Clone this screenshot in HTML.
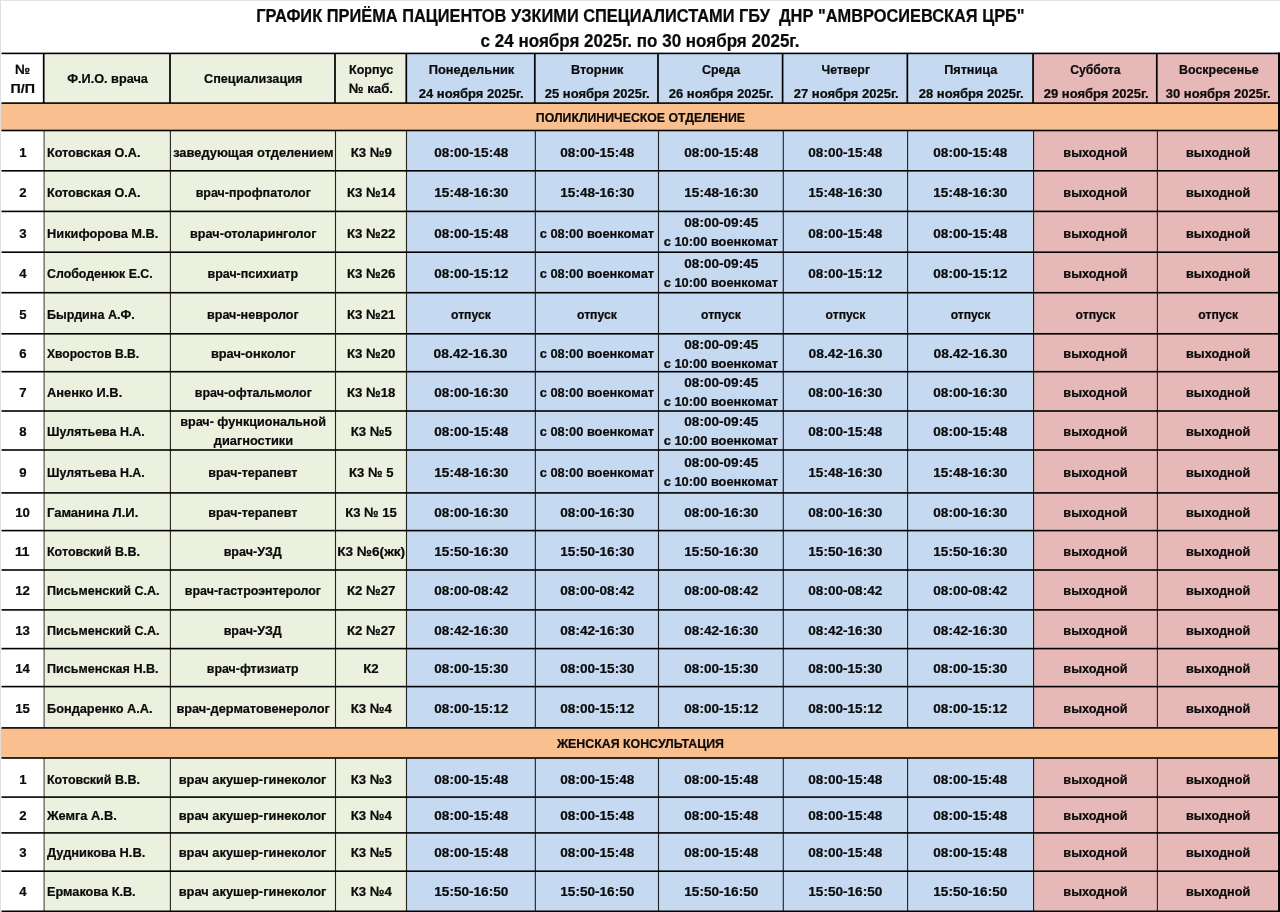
<!DOCTYPE html>
<html lang="ru"><head><meta charset="utf-8"><title>График приёма</title>
<style>
html,body{margin:0;padding:0;background:#fff;width:1280px;height:912px;overflow:hidden}
body{width:1280px;height:912px;position:relative;overflow:hidden;font-family:"Liberation Sans",sans-serif}
svg{position:absolute;left:0;top:0}
#txt{position:absolute;left:0;top:0;width:1280px;height:912px;overflow:hidden;will-change:transform}
.t{position:absolute;white-space:pre;text-align:center;font-weight:bold;font-size:13.7px;line-height:20px;color:#0a0a0a;-webkit-text-stroke:0.22px #0a0a0a}
.t span{display:inline-block;transform-origin:50% 50%}
.l{text-align:left}
.l span{transform-origin:0 50%}
</style></head><body>
<svg width="1280" height="912" viewBox="0 0 1280 912">
<rect x="44.10" y="53.40" width="362.40" height="49.70" fill="#EBF1DE"/>
<rect x="406.50" y="53.40" width="627.05" height="49.70" fill="#C5D9F1"/>
<rect x="1033.55" y="53.40" width="245.45" height="49.70" fill="#E6B8B7"/>
<rect x="44.10" y="130.50" width="362.40" height="597.40" fill="#EBF1DE"/>
<rect x="406.50" y="130.50" width="627.05" height="597.40" fill="#C5D9F1"/>
<rect x="1033.55" y="130.50" width="245.45" height="597.40" fill="#E6B8B7"/>
<rect x="44.10" y="758.00" width="362.40" height="153.30" fill="#EBF1DE"/>
<rect x="406.50" y="758.00" width="627.05" height="153.30" fill="#C5D9F1"/>
<rect x="1033.55" y="758.00" width="245.45" height="153.30" fill="#E6B8B7"/>
<rect x="1.00" y="103.10" width="1278.00" height="27.40" fill="#FABF8F"/>
<rect x="1.00" y="727.90" width="1278.00" height="30.10" fill="#FABF8F"/>
<rect x="0.00" y="0.00" width="1280.00" height="1.00" fill="#e4e4e4"/>
<rect x="0.00" y="0.00" width="1.00" height="912.00" fill="#e0e0e0"/>
<rect x="42.85" y="53.40" width="1.70" height="49.70" fill="#000"/>
<rect x="43.55" y="130.50" width="1.10" height="597.40" fill="#484848"/>
<rect x="43.55" y="758.00" width="1.10" height="153.30" fill="#484848"/>
<rect x="169.15" y="53.40" width="1.70" height="49.70" fill="#000"/>
<rect x="169.85" y="130.50" width="1.10" height="597.40" fill="#222"/>
<rect x="169.85" y="758.00" width="1.10" height="153.30" fill="#222"/>
<rect x="334.15" y="53.40" width="1.70" height="49.70" fill="#000"/>
<rect x="334.95" y="130.50" width="1.10" height="597.40" fill="#222"/>
<rect x="334.95" y="758.00" width="1.10" height="153.30" fill="#222"/>
<rect x="405.45" y="53.40" width="1.70" height="49.70" fill="#000"/>
<rect x="405.95" y="130.50" width="1.10" height="597.40" fill="#222"/>
<rect x="405.95" y="758.00" width="1.10" height="153.30" fill="#222"/>
<rect x="533.95" y="53.40" width="1.70" height="49.70" fill="#000"/>
<rect x="534.80" y="130.50" width="1.10" height="597.40" fill="#222"/>
<rect x="534.80" y="758.00" width="1.10" height="153.30" fill="#222"/>
<rect x="657.15" y="53.40" width="1.70" height="49.70" fill="#000"/>
<rect x="657.95" y="130.50" width="1.10" height="597.40" fill="#222"/>
<rect x="657.95" y="758.00" width="1.10" height="153.30" fill="#222"/>
<rect x="781.75" y="53.40" width="1.70" height="49.70" fill="#000"/>
<rect x="782.75" y="130.50" width="1.10" height="597.40" fill="#222"/>
<rect x="782.75" y="758.00" width="1.10" height="153.30" fill="#222"/>
<rect x="906.50" y="53.40" width="1.70" height="49.70" fill="#000"/>
<rect x="907.05" y="130.50" width="1.10" height="597.40" fill="#222"/>
<rect x="907.05" y="758.00" width="1.10" height="153.30" fill="#222"/>
<rect x="1032.20" y="53.40" width="1.70" height="49.70" fill="#000"/>
<rect x="1033.00" y="130.50" width="1.10" height="597.40" fill="#222"/>
<rect x="1033.00" y="758.00" width="1.10" height="153.30" fill="#222"/>
<rect x="1155.95" y="53.40" width="1.70" height="49.70" fill="#000"/>
<rect x="1156.85" y="130.50" width="1.10" height="597.40" fill="#222"/>
<rect x="1156.85" y="758.00" width="1.10" height="153.30" fill="#222"/>
<rect x="1278.00" y="52.60" width="2.00" height="859.40" fill="#000"/>
<rect x="1.50" y="52.60" width="1278.50" height="1.60" fill="#000"/>
<rect x="1.50" y="102.30" width="1278.50" height="1.60" fill="#000"/>
<rect x="1.50" y="129.70" width="1278.50" height="1.60" fill="#000"/>
<rect x="1.50" y="170.00" width="1278.50" height="1.60" fill="#000"/>
<rect x="1.50" y="210.60" width="1278.50" height="1.60" fill="#000"/>
<rect x="1.50" y="251.40" width="1278.50" height="1.60" fill="#000"/>
<rect x="1.50" y="291.90" width="1278.50" height="1.60" fill="#000"/>
<rect x="1.50" y="333.00" width="1278.50" height="1.60" fill="#000"/>
<rect x="1.50" y="370.90" width="1278.50" height="1.60" fill="#000"/>
<rect x="1.50" y="410.20" width="1278.50" height="1.60" fill="#000"/>
<rect x="1.50" y="449.20" width="1278.50" height="1.60" fill="#000"/>
<rect x="1.50" y="492.10" width="1278.50" height="1.60" fill="#000"/>
<rect x="1.50" y="529.80" width="1278.50" height="1.60" fill="#000"/>
<rect x="1.50" y="569.20" width="1278.50" height="1.60" fill="#000"/>
<rect x="1.50" y="609.10" width="1278.50" height="1.60" fill="#000"/>
<rect x="1.50" y="647.80" width="1278.50" height="1.60" fill="#000"/>
<rect x="1.50" y="685.80" width="1278.50" height="1.60" fill="#000"/>
<rect x="1.50" y="727.10" width="1278.50" height="1.60" fill="#000"/>
<rect x="1.50" y="757.20" width="1278.50" height="1.60" fill="#000"/>
<rect x="1.50" y="796.30" width="1278.50" height="1.60" fill="#000"/>
<rect x="1.50" y="832.10" width="1278.50" height="1.60" fill="#000"/>
<rect x="1.50" y="870.40" width="1278.50" height="1.60" fill="#000"/>
<rect x="1.50" y="910.50" width="1278.50" height="1.60" fill="#000"/>
</svg>
<div id="txt">
<div class="t" style="left:-39.00px;width:123.10px;top:59.80px"><span style="transform:scaleX(0.9900)">№</span></div>
<div class="t" style="left:-39.00px;width:123.10px;top:78.80px"><span style="transform:scaleX(1.0395)">П/П</span></div>
<div class="t" style="left:4.10px;width:206.30px;top:68.80px"><span style="transform:scaleX(0.9279)">Ф.И.О. врача</span></div>
<div class="t" style="left:130.40px;width:245.10px;top:68.80px"><span style="transform:scaleX(0.9236)">Специализация</span></div>
<div class="t" style="left:295.50px;width:151.00px;top:59.80px"><span style="transform:scaleX(0.9178)">Корпус</span></div>
<div class="t" style="left:295.50px;width:151.00px;top:78.80px"><span style="transform:scaleX(0.9657)">№ каб.</span></div>
<div class="t" style="left:366.90px;width:208.85px;top:59.80px"><span style="transform:scaleX(0.9396)">Понедельник</span></div>
<div class="t" style="left:366.90px;width:208.85px;top:83.80px"><span style="transform:scaleX(0.9500)">24 ноября 2025г.</span></div>
<div class="t" style="left:495.75px;width:203.15px;top:59.80px"><span style="transform:scaleX(0.9264)">Вторник</span></div>
<div class="t" style="left:495.75px;width:203.15px;top:83.80px"><span style="transform:scaleX(0.9500)">25 ноября 2025г.</span></div>
<div class="t" style="left:618.90px;width:204.80px;top:59.80px"><span style="transform:scaleX(0.9063)">Среда</span></div>
<div class="t" style="left:618.90px;width:204.80px;top:83.80px"><span style="transform:scaleX(0.9500)">26 ноября 2025г.</span></div>
<div class="t" style="left:743.70px;width:204.30px;top:59.80px"><span style="transform:scaleX(0.9023)">Четверг</span></div>
<div class="t" style="left:743.70px;width:204.30px;top:83.80px"><span style="transform:scaleX(0.9500)">27 ноября 2025г.</span></div>
<div class="t" style="left:868.00px;width:205.95px;top:59.80px"><span style="transform:scaleX(0.9251)">Пятница</span></div>
<div class="t" style="left:868.00px;width:205.95px;top:83.80px"><span style="transform:scaleX(0.9500)">28 ноября 2025г.</span></div>
<div class="t" style="left:993.95px;width:203.85px;top:59.80px"><span style="transform:scaleX(0.8882)">Суббота</span></div>
<div class="t" style="left:993.95px;width:203.85px;top:83.80px"><span style="transform:scaleX(0.9500)">29 ноября 2025г.</span></div>
<div class="t" style="left:1117.80px;width:201.60px;top:59.80px"><span style="transform:scaleX(0.9075)">Воскресенье</span></div>
<div class="t" style="left:1117.80px;width:201.60px;top:83.80px"><span style="transform:scaleX(0.9500)">30 ноября 2025г.</span></div>
<div class="t" style="left:-39.00px;width:1358.00px;top:107.80px"><span style="transform:scaleX(0.8982)">ПОЛИКЛИНИЧЕСКОЕ ОТДЕЛЕНИЕ</span></div>
<div class="t" style="left:-39.00px;width:1358.00px;top:733.80px"><span style="transform:scaleX(0.9039)">ЖЕНСКАЯ КОНСУЛЬТАЦИЯ</span></div>
<div class="t" style="left:-39.00px;width:123.10px;top:142.80px"><span style="transform:scaleX(0.9605)">1</span></div>
<div class="t l" style="left:47.40px;top:142.80px"><span style="transform:scaleX(0.9225)">Котовская О.А.</span></div>
<div class="t" style="left:130.40px;width:245.10px;top:142.80px"><span style="transform:scaleX(0.9399)">заведующая отделением</span></div>
<div class="t" style="left:295.50px;width:151.00px;top:142.80px"><span style="transform:scaleX(0.9653)">К3 №9</span></div>
<div class="t" style="left:366.50px;width:208.85px;top:142.80px"><span style="transform:scaleX(0.9922)">08:00-15:48</span></div>
<div class="t" style="left:495.35px;width:203.15px;top:142.80px"><span style="transform:scaleX(0.9922)">08:00-15:48</span></div>
<div class="t" style="left:618.50px;width:204.80px;top:142.80px"><span style="transform:scaleX(0.9922)">08:00-15:48</span></div>
<div class="t" style="left:743.30px;width:204.30px;top:142.80px"><span style="transform:scaleX(0.9922)">08:00-15:48</span></div>
<div class="t" style="left:867.60px;width:205.95px;top:142.80px"><span style="transform:scaleX(0.9922)">08:00-15:48</span></div>
<div class="t" style="left:993.55px;width:203.85px;top:143.30px;font-size:12.7px"><span>выходной</span></div>
<div class="t" style="left:1117.40px;width:201.60px;top:143.30px;font-size:12.7px"><span>выходной</span></div>
<div class="t" style="left:-39.00px;width:123.10px;top:182.80px"><span style="transform:scaleX(0.9605)">2</span></div>
<div class="t l" style="left:47.40px;top:182.80px"><span style="transform:scaleX(0.9225)">Котовская О.А.</span></div>
<div class="t" style="left:130.40px;width:245.10px;top:182.80px"><span style="transform:scaleX(0.9110)">врач-профпатолог</span></div>
<div class="t" style="left:295.50px;width:151.00px;top:182.80px"><span style="transform:scaleX(0.9646)">К3 №14</span></div>
<div class="t" style="left:366.50px;width:208.85px;top:182.80px"><span style="transform:scaleX(0.9922)">15:48-16:30</span></div>
<div class="t" style="left:495.35px;width:203.15px;top:182.80px"><span style="transform:scaleX(0.9922)">15:48-16:30</span></div>
<div class="t" style="left:618.50px;width:204.80px;top:182.80px"><span style="transform:scaleX(0.9922)">15:48-16:30</span></div>
<div class="t" style="left:743.30px;width:204.30px;top:182.80px"><span style="transform:scaleX(0.9922)">15:48-16:30</span></div>
<div class="t" style="left:867.60px;width:205.95px;top:182.80px"><span style="transform:scaleX(0.9922)">15:48-16:30</span></div>
<div class="t" style="left:993.55px;width:203.85px;top:183.30px;font-size:12.7px"><span>выходной</span></div>
<div class="t" style="left:1117.40px;width:201.60px;top:183.30px;font-size:12.7px"><span>выходной</span></div>
<div class="t" style="left:-39.00px;width:123.10px;top:223.80px"><span style="transform:scaleX(0.9605)">3</span></div>
<div class="t l" style="left:47.40px;top:223.80px"><span style="transform:scaleX(0.9362)">Никифорова М.В.</span></div>
<div class="t" style="left:130.40px;width:245.10px;top:223.80px"><span style="transform:scaleX(0.9259)">врач-отоларинголог</span></div>
<div class="t" style="left:295.50px;width:151.00px;top:223.80px"><span style="transform:scaleX(0.9646)">К3 №22</span></div>
<div class="t" style="left:366.50px;width:208.85px;top:223.80px"><span style="transform:scaleX(0.9922)">08:00-15:48</span></div>
<div class="t" style="left:495.35px;width:203.15px;top:223.80px"><span style="transform:scaleX(0.9385)">с 08:00 военкомат</span></div>
<div class="t" style="left:618.50px;width:204.80px;top:212.80px"><span style="transform:scaleX(0.9922)">08:00-09:45</span></div>
<div class="t" style="left:618.50px;width:204.80px;top:231.80px"><span style="transform:scaleX(0.9385)">с 10:00 военкомат</span></div>
<div class="t" style="left:743.30px;width:204.30px;top:223.80px"><span style="transform:scaleX(0.9922)">08:00-15:48</span></div>
<div class="t" style="left:867.60px;width:205.95px;top:223.80px"><span style="transform:scaleX(0.9922)">08:00-15:48</span></div>
<div class="t" style="left:993.55px;width:203.85px;top:224.30px;font-size:12.7px"><span>выходной</span></div>
<div class="t" style="left:1117.40px;width:201.60px;top:224.30px;font-size:12.7px"><span>выходной</span></div>
<div class="t" style="left:-39.00px;width:123.10px;top:263.80px"><span style="transform:scaleX(0.9605)">4</span></div>
<div class="t l" style="left:47.40px;top:263.80px"><span style="transform:scaleX(0.9043)">Слободенюк Е.С.</span></div>
<div class="t" style="left:130.40px;width:245.10px;top:263.80px"><span style="transform:scaleX(0.9092)">врач-психиатр</span></div>
<div class="t" style="left:295.50px;width:151.00px;top:263.80px"><span style="transform:scaleX(0.9646)">К3 №26</span></div>
<div class="t" style="left:366.50px;width:208.85px;top:263.80px"><span style="transform:scaleX(0.9922)">08:00-15:12</span></div>
<div class="t" style="left:495.35px;width:203.15px;top:263.80px"><span style="transform:scaleX(0.9385)">с 08:00 военкомат</span></div>
<div class="t" style="left:618.50px;width:204.80px;top:253.80px"><span style="transform:scaleX(0.9922)">08:00-09:45</span></div>
<div class="t" style="left:618.50px;width:204.80px;top:272.80px"><span style="transform:scaleX(0.9385)">с 10:00 военкомат</span></div>
<div class="t" style="left:743.30px;width:204.30px;top:263.80px"><span style="transform:scaleX(0.9922)">08:00-15:12</span></div>
<div class="t" style="left:867.60px;width:205.95px;top:263.80px"><span style="transform:scaleX(0.9922)">08:00-15:12</span></div>
<div class="t" style="left:993.55px;width:203.85px;top:264.30px;font-size:12.7px"><span>выходной</span></div>
<div class="t" style="left:1117.40px;width:201.60px;top:264.30px;font-size:12.7px"><span>выходной</span></div>
<div class="t" style="left:-39.00px;width:123.10px;top:304.80px"><span style="transform:scaleX(0.9605)">5</span></div>
<div class="t l" style="left:47.40px;top:304.80px"><span style="transform:scaleX(0.9186)">Бырдина А.Ф.</span></div>
<div class="t" style="left:130.40px;width:245.10px;top:304.80px"><span style="transform:scaleX(0.9200)">врач-невролог</span></div>
<div class="t" style="left:295.50px;width:151.00px;top:304.80px"><span style="transform:scaleX(0.9646)">К3 №21</span></div>
<div class="t" style="left:366.50px;width:208.85px;top:305.30px;font-size:12.2px"><span>отпуск</span></div>
<div class="t" style="left:495.35px;width:203.15px;top:305.30px;font-size:12.2px"><span>отпуск</span></div>
<div class="t" style="left:618.50px;width:204.80px;top:305.30px;font-size:12.2px"><span>отпуск</span></div>
<div class="t" style="left:743.30px;width:204.30px;top:305.30px;font-size:12.2px"><span>отпуск</span></div>
<div class="t" style="left:867.60px;width:205.95px;top:305.30px;font-size:12.2px"><span>отпуск</span></div>
<div class="t" style="left:993.55px;width:203.85px;top:305.30px;font-size:12.2px"><span>отпуск</span></div>
<div class="t" style="left:1117.40px;width:201.60px;top:305.30px;font-size:12.2px"><span>отпуск</span></div>
<div class="t" style="left:-39.00px;width:123.10px;top:343.80px"><span style="transform:scaleX(0.9605)">6</span></div>
<div class="t l" style="left:47.40px;top:343.80px"><span style="transform:scaleX(0.8832)">Хворостов В.В.</span></div>
<div class="t" style="left:130.40px;width:245.10px;top:343.80px"><span style="transform:scaleX(0.9350)">врач-онколог</span></div>
<div class="t" style="left:295.50px;width:151.00px;top:343.80px"><span style="transform:scaleX(0.9646)">К3 №20</span></div>
<div class="t" style="left:366.50px;width:208.85px;top:343.80px"><span style="transform:scaleX(1.0128)">08.42-16.30</span></div>
<div class="t" style="left:495.35px;width:203.15px;top:343.80px"><span style="transform:scaleX(0.9385)">с 08:00 военкомат</span></div>
<div class="t" style="left:618.50px;width:204.80px;top:334.80px"><span style="transform:scaleX(0.9922)">08:00-09:45</span></div>
<div class="t" style="left:618.50px;width:204.80px;top:353.80px"><span style="transform:scaleX(0.9385)">с 10:00 военкомат</span></div>
<div class="t" style="left:743.30px;width:204.30px;top:343.80px"><span style="transform:scaleX(1.0128)">08.42-16.30</span></div>
<div class="t" style="left:867.60px;width:205.95px;top:343.80px"><span style="transform:scaleX(1.0128)">08.42-16.30</span></div>
<div class="t" style="left:993.55px;width:203.85px;top:344.30px;font-size:12.7px"><span>выходной</span></div>
<div class="t" style="left:1117.40px;width:201.60px;top:344.30px;font-size:12.7px"><span>выходной</span></div>
<div class="t" style="left:-39.00px;width:123.10px;top:382.80px"><span style="transform:scaleX(0.9605)">7</span></div>
<div class="t l" style="left:47.40px;top:382.80px"><span style="transform:scaleX(0.9378)">Аненко И.В.</span></div>
<div class="t" style="left:130.40px;width:245.10px;top:382.80px"><span style="transform:scaleX(0.9101)">врач-офтальмолог</span></div>
<div class="t" style="left:295.50px;width:151.00px;top:382.80px"><span style="transform:scaleX(0.9646)">К3 №18</span></div>
<div class="t" style="left:366.50px;width:208.85px;top:382.80px"><span style="transform:scaleX(0.9922)">08:00-16:30</span></div>
<div class="t" style="left:495.35px;width:203.15px;top:382.80px"><span style="transform:scaleX(0.9385)">с 08:00 военкомат</span></div>
<div class="t" style="left:618.50px;width:204.80px;top:372.80px"><span style="transform:scaleX(0.9922)">08:00-09:45</span></div>
<div class="t" style="left:618.50px;width:204.80px;top:391.80px"><span style="transform:scaleX(0.9385)">с 10:00 военкомат</span></div>
<div class="t" style="left:743.30px;width:204.30px;top:382.80px"><span style="transform:scaleX(0.9922)">08:00-16:30</span></div>
<div class="t" style="left:867.60px;width:205.95px;top:382.80px"><span style="transform:scaleX(0.9922)">08:00-16:30</span></div>
<div class="t" style="left:993.55px;width:203.85px;top:383.30px;font-size:12.7px"><span>выходной</span></div>
<div class="t" style="left:1117.40px;width:201.60px;top:383.30px;font-size:12.7px"><span>выходной</span></div>
<div class="t" style="left:-39.00px;width:123.10px;top:421.80px"><span style="transform:scaleX(0.9605)">8</span></div>
<div class="t l" style="left:47.40px;top:421.80px"><span style="transform:scaleX(0.9086)">Шулятьева Н.А.</span></div>
<div class="t" style="left:130.40px;width:245.10px;top:411.80px"><span style="transform:scaleX(0.9221)">врач- функциональной</span></div>
<div class="t" style="left:130.40px;width:245.10px;top:430.80px"><span style="transform:scaleX(0.9341)">диагностики</span></div>
<div class="t" style="left:295.50px;width:151.00px;top:421.80px"><span style="transform:scaleX(0.9653)">К3 №5</span></div>
<div class="t" style="left:366.50px;width:208.85px;top:421.80px"><span style="transform:scaleX(0.9922)">08:00-15:48</span></div>
<div class="t" style="left:495.35px;width:203.15px;top:421.80px"><span style="transform:scaleX(0.9385)">с 08:00 военкомат</span></div>
<div class="t" style="left:618.50px;width:204.80px;top:411.80px"><span style="transform:scaleX(0.9922)">08:00-09:45</span></div>
<div class="t" style="left:618.50px;width:204.80px;top:430.80px"><span style="transform:scaleX(0.9385)">с 10:00 военкомат</span></div>
<div class="t" style="left:743.30px;width:204.30px;top:421.80px"><span style="transform:scaleX(0.9922)">08:00-15:48</span></div>
<div class="t" style="left:867.60px;width:205.95px;top:421.80px"><span style="transform:scaleX(0.9922)">08:00-15:48</span></div>
<div class="t" style="left:993.55px;width:203.85px;top:422.30px;font-size:12.7px"><span>выходной</span></div>
<div class="t" style="left:1117.40px;width:201.60px;top:422.30px;font-size:12.7px"><span>выходной</span></div>
<div class="t" style="left:-39.00px;width:123.10px;top:462.80px"><span style="transform:scaleX(0.9605)">9</span></div>
<div class="t l" style="left:47.40px;top:462.80px"><span style="transform:scaleX(0.9086)">Шулятьева Н.А.</span></div>
<div class="t" style="left:130.40px;width:245.10px;top:462.80px"><span style="transform:scaleX(0.9120)">врач-терапевт</span></div>
<div class="t" style="left:295.50px;width:151.00px;top:462.80px"><span style="transform:scaleX(0.9564)">К3 № 5</span></div>
<div class="t" style="left:366.50px;width:208.85px;top:462.80px"><span style="transform:scaleX(0.9922)">15:48-16:30</span></div>
<div class="t" style="left:495.35px;width:203.15px;top:462.80px"><span style="transform:scaleX(0.9385)">с 08:00 военкомат</span></div>
<div class="t" style="left:618.50px;width:204.80px;top:452.80px"><span style="transform:scaleX(0.9922)">08:00-09:45</span></div>
<div class="t" style="left:618.50px;width:204.80px;top:471.80px"><span style="transform:scaleX(0.9385)">с 10:00 военкомат</span></div>
<div class="t" style="left:743.30px;width:204.30px;top:462.80px"><span style="transform:scaleX(0.9922)">15:48-16:30</span></div>
<div class="t" style="left:867.60px;width:205.95px;top:462.80px"><span style="transform:scaleX(0.9922)">15:48-16:30</span></div>
<div class="t" style="left:993.55px;width:203.85px;top:463.30px;font-size:12.7px"><span>выходной</span></div>
<div class="t" style="left:1117.40px;width:201.60px;top:463.30px;font-size:12.7px"><span>выходной</span></div>
<div class="t" style="left:-39.00px;width:123.10px;top:502.80px"><span style="transform:scaleX(0.9615)">10</span></div>
<div class="t l" style="left:47.40px;top:502.80px"><span style="transform:scaleX(0.9488)">Гаманина Л.И.</span></div>
<div class="t" style="left:130.40px;width:245.10px;top:502.80px"><span style="transform:scaleX(0.9120)">врач-терапевт</span></div>
<div class="t" style="left:295.50px;width:151.00px;top:502.80px"><span style="transform:scaleX(0.9573)">К3 № 15</span></div>
<div class="t" style="left:366.50px;width:208.85px;top:502.80px"><span style="transform:scaleX(0.9922)">08:00-16:30</span></div>
<div class="t" style="left:495.35px;width:203.15px;top:502.80px"><span style="transform:scaleX(0.9922)">08:00-16:30</span></div>
<div class="t" style="left:618.50px;width:204.80px;top:502.80px"><span style="transform:scaleX(0.9922)">08:00-16:30</span></div>
<div class="t" style="left:743.30px;width:204.30px;top:502.80px"><span style="transform:scaleX(0.9922)">08:00-16:30</span></div>
<div class="t" style="left:867.60px;width:205.95px;top:502.80px"><span style="transform:scaleX(0.9922)">08:00-16:30</span></div>
<div class="t" style="left:993.55px;width:203.85px;top:503.30px;font-size:12.7px"><span>выходной</span></div>
<div class="t" style="left:1117.40px;width:201.60px;top:503.30px;font-size:12.7px"><span>выходной</span></div>
<div class="t" style="left:-39.00px;width:123.10px;top:541.80px"><span style="transform:scaleX(1.0113)">11</span></div>
<div class="t l" style="left:47.40px;top:541.80px"><span style="transform:scaleX(0.9126)">Котовский В.В.</span></div>
<div class="t" style="left:130.40px;width:245.10px;top:541.80px"><span style="transform:scaleX(0.9165)">врач-УЗД</span></div>
<div class="t" style="left:295.50px;width:151.00px;top:541.80px"><span style="transform:scaleX(0.9948)">К3 №6(жк)</span></div>
<div class="t" style="left:366.50px;width:208.85px;top:541.80px"><span style="transform:scaleX(0.9922)">15:50-16:30</span></div>
<div class="t" style="left:495.35px;width:203.15px;top:541.80px"><span style="transform:scaleX(0.9922)">15:50-16:30</span></div>
<div class="t" style="left:618.50px;width:204.80px;top:541.80px"><span style="transform:scaleX(0.9922)">15:50-16:30</span></div>
<div class="t" style="left:743.30px;width:204.30px;top:541.80px"><span style="transform:scaleX(0.9922)">15:50-16:30</span></div>
<div class="t" style="left:867.60px;width:205.95px;top:541.80px"><span style="transform:scaleX(0.9922)">15:50-16:30</span></div>
<div class="t" style="left:993.55px;width:203.85px;top:542.30px;font-size:12.7px"><span>выходной</span></div>
<div class="t" style="left:1117.40px;width:201.60px;top:542.30px;font-size:12.7px"><span>выходной</span></div>
<div class="t" style="left:-39.00px;width:123.10px;top:580.80px"><span style="transform:scaleX(0.9615)">12</span></div>
<div class="t l" style="left:47.40px;top:580.80px"><span style="transform:scaleX(0.9162)">Письменский С.А.</span></div>
<div class="t" style="left:130.40px;width:245.10px;top:580.80px"><span style="transform:scaleX(0.9083)">врач-гастроэнтеролог</span></div>
<div class="t" style="left:295.50px;width:151.00px;top:580.80px"><span style="transform:scaleX(0.9646)">К2 №27</span></div>
<div class="t" style="left:366.50px;width:208.85px;top:580.80px"><span style="transform:scaleX(0.9922)">08:00-08:42</span></div>
<div class="t" style="left:495.35px;width:203.15px;top:580.80px"><span style="transform:scaleX(0.9922)">08:00-08:42</span></div>
<div class="t" style="left:618.50px;width:204.80px;top:580.80px"><span style="transform:scaleX(0.9922)">08:00-08:42</span></div>
<div class="t" style="left:743.30px;width:204.30px;top:580.80px"><span style="transform:scaleX(0.9922)">08:00-08:42</span></div>
<div class="t" style="left:867.60px;width:205.95px;top:580.80px"><span style="transform:scaleX(0.9922)">08:00-08:42</span></div>
<div class="t" style="left:993.55px;width:203.85px;top:581.30px;font-size:12.7px"><span>выходной</span></div>
<div class="t" style="left:1117.40px;width:201.60px;top:581.30px;font-size:12.7px"><span>выходной</span></div>
<div class="t" style="left:-39.00px;width:123.10px;top:620.80px"><span style="transform:scaleX(0.9615)">13</span></div>
<div class="t l" style="left:47.40px;top:620.80px"><span style="transform:scaleX(0.9162)">Письменский С.А.</span></div>
<div class="t" style="left:130.40px;width:245.10px;top:620.80px"><span style="transform:scaleX(0.9165)">врач-УЗД</span></div>
<div class="t" style="left:295.50px;width:151.00px;top:620.80px"><span style="transform:scaleX(0.9646)">К2 №27</span></div>
<div class="t" style="left:366.50px;width:208.85px;top:620.80px"><span style="transform:scaleX(0.9922)">08:42-16:30</span></div>
<div class="t" style="left:495.35px;width:203.15px;top:620.80px"><span style="transform:scaleX(0.9922)">08:42-16:30</span></div>
<div class="t" style="left:618.50px;width:204.80px;top:620.80px"><span style="transform:scaleX(0.9922)">08:42-16:30</span></div>
<div class="t" style="left:743.30px;width:204.30px;top:620.80px"><span style="transform:scaleX(0.9922)">08:42-16:30</span></div>
<div class="t" style="left:867.60px;width:205.95px;top:620.80px"><span style="transform:scaleX(0.9922)">08:42-16:30</span></div>
<div class="t" style="left:993.55px;width:203.85px;top:621.30px;font-size:12.7px"><span>выходной</span></div>
<div class="t" style="left:1117.40px;width:201.60px;top:621.30px;font-size:12.7px"><span>выходной</span></div>
<div class="t" style="left:-39.00px;width:123.10px;top:658.80px"><span style="transform:scaleX(0.9615)">14</span></div>
<div class="t l" style="left:47.40px;top:658.80px"><span style="transform:scaleX(0.9177)">Письменская Н.В.</span></div>
<div class="t" style="left:130.40px;width:245.10px;top:658.80px"><span style="transform:scaleX(0.9044)">врач-фтизиатр</span></div>
<div class="t" style="left:295.50px;width:151.00px;top:658.80px"><span style="transform:scaleX(0.9681)">К2</span></div>
<div class="t" style="left:366.50px;width:208.85px;top:658.80px"><span style="transform:scaleX(0.9922)">08:00-15:30</span></div>
<div class="t" style="left:495.35px;width:203.15px;top:658.80px"><span style="transform:scaleX(0.9922)">08:00-15:30</span></div>
<div class="t" style="left:618.50px;width:204.80px;top:658.80px"><span style="transform:scaleX(0.9922)">08:00-15:30</span></div>
<div class="t" style="left:743.30px;width:204.30px;top:658.80px"><span style="transform:scaleX(0.9922)">08:00-15:30</span></div>
<div class="t" style="left:867.60px;width:205.95px;top:658.80px"><span style="transform:scaleX(0.9922)">08:00-15:30</span></div>
<div class="t" style="left:993.55px;width:203.85px;top:659.30px;font-size:12.7px"><span>выходной</span></div>
<div class="t" style="left:1117.40px;width:201.60px;top:659.30px;font-size:12.7px"><span>выходной</span></div>
<div class="t" style="left:-39.00px;width:123.10px;top:698.80px"><span style="transform:scaleX(0.9615)">15</span></div>
<div class="t l" style="left:47.40px;top:698.80px"><span style="transform:scaleX(0.9322)">Бондаренко А.А.</span></div>
<div class="t" style="left:130.40px;width:245.10px;top:698.80px"><span style="transform:scaleX(0.9344)">врач-дерматовенеролог</span></div>
<div class="t" style="left:295.50px;width:151.00px;top:698.80px"><span style="transform:scaleX(0.9653)">К3 №4</span></div>
<div class="t" style="left:366.50px;width:208.85px;top:698.80px"><span style="transform:scaleX(0.9922)">08:00-15:12</span></div>
<div class="t" style="left:495.35px;width:203.15px;top:698.80px"><span style="transform:scaleX(0.9922)">08:00-15:12</span></div>
<div class="t" style="left:618.50px;width:204.80px;top:698.80px"><span style="transform:scaleX(0.9922)">08:00-15:12</span></div>
<div class="t" style="left:743.30px;width:204.30px;top:698.80px"><span style="transform:scaleX(0.9922)">08:00-15:12</span></div>
<div class="t" style="left:867.60px;width:205.95px;top:698.80px"><span style="transform:scaleX(0.9922)">08:00-15:12</span></div>
<div class="t" style="left:993.55px;width:203.85px;top:699.30px;font-size:12.7px"><span>выходной</span></div>
<div class="t" style="left:1117.40px;width:201.60px;top:699.30px;font-size:12.7px"><span>выходной</span></div>
<div class="t" style="left:-39.00px;width:123.10px;top:769.80px"><span style="transform:scaleX(0.9605)">1</span></div>
<div class="t l" style="left:47.40px;top:769.80px"><span style="transform:scaleX(0.9126)">Котовский В.В.</span></div>
<div class="t" style="left:130.40px;width:245.10px;top:769.80px"><span style="transform:scaleX(0.9402)">врач акушер-гинеколог</span></div>
<div class="t" style="left:295.50px;width:151.00px;top:769.80px"><span style="transform:scaleX(0.9653)">К3 №3</span></div>
<div class="t" style="left:366.50px;width:208.85px;top:769.80px"><span style="transform:scaleX(0.9922)">08:00-15:48</span></div>
<div class="t" style="left:495.35px;width:203.15px;top:769.80px"><span style="transform:scaleX(0.9922)">08:00-15:48</span></div>
<div class="t" style="left:618.50px;width:204.80px;top:769.80px"><span style="transform:scaleX(0.9922)">08:00-15:48</span></div>
<div class="t" style="left:743.30px;width:204.30px;top:769.80px"><span style="transform:scaleX(0.9922)">08:00-15:48</span></div>
<div class="t" style="left:867.60px;width:205.95px;top:769.80px"><span style="transform:scaleX(0.9922)">08:00-15:48</span></div>
<div class="t" style="left:993.55px;width:203.85px;top:770.30px;font-size:12.7px"><span>выходной</span></div>
<div class="t" style="left:1117.40px;width:201.60px;top:770.30px;font-size:12.7px"><span>выходной</span></div>
<div class="t" style="left:-39.00px;width:123.10px;top:805.80px"><span style="transform:scaleX(0.9605)">2</span></div>
<div class="t l" style="left:47.40px;top:805.80px"><span style="transform:scaleX(0.9367)">Жемга А.В.</span></div>
<div class="t" style="left:130.40px;width:245.10px;top:805.80px"><span style="transform:scaleX(0.9402)">врач акушер-гинеколог</span></div>
<div class="t" style="left:295.50px;width:151.00px;top:805.80px"><span style="transform:scaleX(0.9653)">К3 №4</span></div>
<div class="t" style="left:366.50px;width:208.85px;top:805.80px"><span style="transform:scaleX(0.9922)">08:00-15:48</span></div>
<div class="t" style="left:495.35px;width:203.15px;top:805.80px"><span style="transform:scaleX(0.9922)">08:00-15:48</span></div>
<div class="t" style="left:618.50px;width:204.80px;top:805.80px"><span style="transform:scaleX(0.9922)">08:00-15:48</span></div>
<div class="t" style="left:743.30px;width:204.30px;top:805.80px"><span style="transform:scaleX(0.9922)">08:00-15:48</span></div>
<div class="t" style="left:867.60px;width:205.95px;top:805.80px"><span style="transform:scaleX(0.9922)">08:00-15:48</span></div>
<div class="t" style="left:993.55px;width:203.85px;top:806.30px;font-size:12.7px"><span>выходной</span></div>
<div class="t" style="left:1117.40px;width:201.60px;top:806.30px;font-size:12.7px"><span>выходной</span></div>
<div class="t" style="left:-39.00px;width:123.10px;top:842.80px"><span style="transform:scaleX(0.9605)">3</span></div>
<div class="t l" style="left:47.40px;top:842.80px"><span style="transform:scaleX(0.9395)">Дудникова Н.В.</span></div>
<div class="t" style="left:130.40px;width:245.10px;top:842.80px"><span style="transform:scaleX(0.9402)">врач акушер-гинеколог</span></div>
<div class="t" style="left:295.50px;width:151.00px;top:842.80px"><span style="transform:scaleX(0.9653)">К3 №5</span></div>
<div class="t" style="left:366.50px;width:208.85px;top:842.80px"><span style="transform:scaleX(0.9922)">08:00-15:48</span></div>
<div class="t" style="left:495.35px;width:203.15px;top:842.80px"><span style="transform:scaleX(0.9922)">08:00-15:48</span></div>
<div class="t" style="left:618.50px;width:204.80px;top:842.80px"><span style="transform:scaleX(0.9922)">08:00-15:48</span></div>
<div class="t" style="left:743.30px;width:204.30px;top:842.80px"><span style="transform:scaleX(0.9922)">08:00-15:48</span></div>
<div class="t" style="left:867.60px;width:205.95px;top:842.80px"><span style="transform:scaleX(0.9922)">08:00-15:48</span></div>
<div class="t" style="left:993.55px;width:203.85px;top:843.30px;font-size:12.7px"><span>выходной</span></div>
<div class="t" style="left:1117.40px;width:201.60px;top:843.30px;font-size:12.7px"><span>выходной</span></div>
<div class="t" style="left:-39.00px;width:123.10px;top:881.80px"><span style="transform:scaleX(0.9605)">4</span></div>
<div class="t l" style="left:47.40px;top:881.80px"><span style="transform:scaleX(0.9293)">Ермакова К.В.</span></div>
<div class="t" style="left:130.40px;width:245.10px;top:881.80px"><span style="transform:scaleX(0.9402)">врач акушер-гинеколог</span></div>
<div class="t" style="left:295.50px;width:151.00px;top:881.80px"><span style="transform:scaleX(0.9653)">К3 №4</span></div>
<div class="t" style="left:366.50px;width:208.85px;top:881.80px"><span style="transform:scaleX(0.9922)">15:50-16:50</span></div>
<div class="t" style="left:495.35px;width:203.15px;top:881.80px"><span style="transform:scaleX(0.9922)">15:50-16:50</span></div>
<div class="t" style="left:618.50px;width:204.80px;top:881.80px"><span style="transform:scaleX(0.9922)">15:50-16:50</span></div>
<div class="t" style="left:743.30px;width:204.30px;top:881.80px"><span style="transform:scaleX(0.9922)">15:50-16:50</span></div>
<div class="t" style="left:867.60px;width:205.95px;top:881.80px"><span style="transform:scaleX(0.9922)">15:50-16:50</span></div>
<div class="t" style="left:993.55px;width:203.85px;top:882.30px;font-size:12.7px"><span>выходной</span></div>
<div class="t" style="left:1117.40px;width:201.60px;top:882.30px;font-size:12.7px"><span>выходной</span></div>
<div class="t" style="left:-40.00px;width:1360.00px;top:6.30px;font-size:17.5px"><span style="transform:scaleX(0.9362)">ГРАФИК ПРИЁМА ПАЦИЕНТОВ УЗКИМИ СПЕЦИАЛИСТАМИ ГБУ  ДНР "АМВРОСИЕВСКАЯ ЦРБ"</span></div>
<div class="t" style="left:-40.00px;width:1361.00px;top:31.30px;font-size:17.5px"><span style="transform:scaleX(0.9719)">с 24 ноября 2025г. по 30 ноября 2025г.</span></div>
</div>
</body></html>
